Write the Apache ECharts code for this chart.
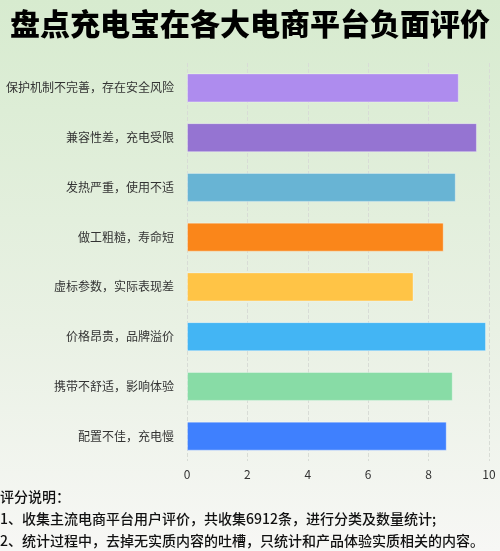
<!DOCTYPE html>
<html><head><meta charset="utf-8">
<script src="https://cdn.jsdelivr.net/npm/echarts@6/dist/echarts.min.js"></script>
<style>html,body{margin:0;padding:0;}#c{width:500px;height:551px;}</style>
</head><body><div id="c"></div>
<script>
const categories = ['保护机制不完善，存在安全风险','兼容性差，充电受限','发热严重，使用不适','做工粗糙，寿命短','虚标参数，实际表现差','价格昂贵，品牌溢价','携带不舒适，影响体验','配置不佳，充电慢'];
const values = [9.0, 9.6, 8.9, 8.5, 7.5, 9.9, 8.8, 8.6];
const barColors = ['#ae8cee','#9574d2','#68b4d4','#fa861a','#ffc446','#43b5f4','#88dca6','#3f80fe'];
const xTicks = [0, 2, 4, 6, 8, 10];
const titleText = '盘点充电宝在各大电商平台负面评价';
const noteLines = ['评分说明：','1、收集主流电商平台用户评价，共收集6912条，进行分类及数量统计;','2、统计过程中，去掉无实质内容的吐槽，只统计和产品体验实质相关的内容。'];

const chart = echarts.init(document.getElementById('c'));
chart.setOption({
  backgroundColor: {type:'linear',x:0,y:0,x2:0,y2:1,colorStops:[{offset:0,color:'#d7ebcf'},{offset:0.6,color:'#e9f1e4'},{offset:1,color:'#f7f7f5'}]},
  title: [
    {text: titleText, left:'center', top:9, padding:0, textStyle:{fontFamily:'Noto Sans CJK SC', fontWeight:900, fontSize:30, color:'#000'}},
    {text: noteLines.join('\n'), left:0, top:486, padding:0, textStyle:{fontFamily:'Noto Sans CJK SC', fontWeight:500, fontSize:14, lineHeight:22, color:'#111'}}
  ],
  grid: {left:187, right:11, top:63, bottom:90, containLabel:false},
  xAxis: {type:'value', min:0, max:10, interval:2,
    axisLine:{show:false}, axisTick:{show:false},
    axisLabel:{color:'#333', fontSize:12, fontFamily:'Noto Sans CJK SC', margin:7,
      formatter: v => xTicks.includes(v) ? String(v) : ''},
    splitLine:{show:true, lineStyle:{type:'dashed', color:'#d8dcd6'}}},
  yAxis: {type:'category', data: categories, inverse:true,
    axisLine:{show:false}, axisTick:{show:false}, splitLine:{show:false},
    axisLabel:{color:'#333', fontSize:12, fontFamily:'Noto Sans CJK SC', margin:13}},
  series: [{type:'bar', barWidth:29,
    data: values.map((v,i)=>({value:v, itemStyle:{color:barColors[i]}})),
    itemStyle:{borderColor:'rgba(255,255,255,0.35)', borderWidth:1}}]
});
</script></body></html>
